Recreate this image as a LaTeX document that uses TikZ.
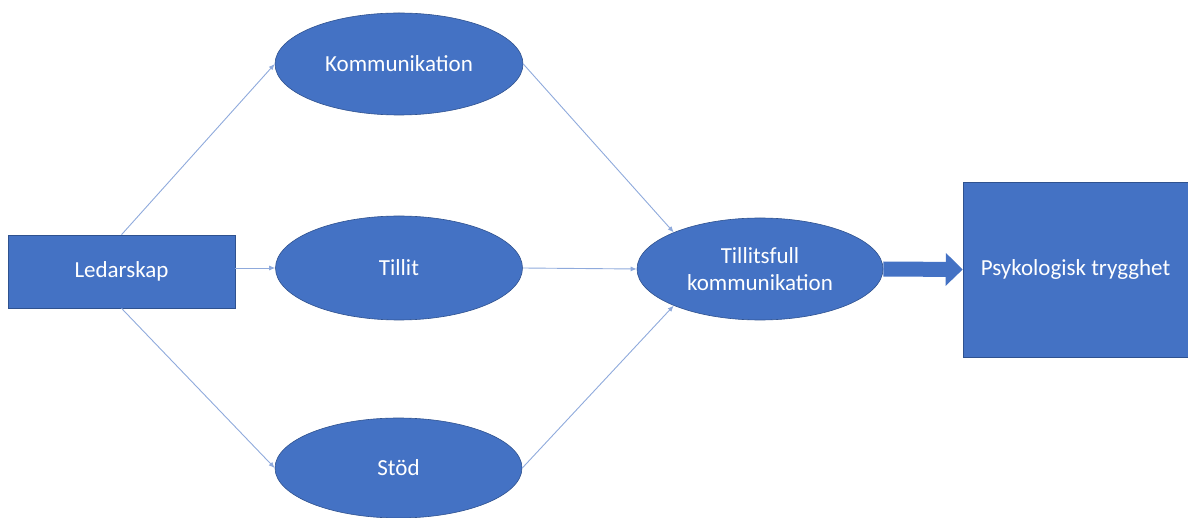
\documentclass[tikz,border=0pt]{standalone}
\usepackage{fontspec}
\setmainfont{Carlito}
\usetikzlibrary{shapes.geometric,arrows.meta,positioning}
\definecolor{boxblue}{HTML}{4472C4}
\definecolor{edgeblue}{HTML}{2F528F}
\definecolor{lineblue}{HTML}{8FAADC}
\tikzset{
 box/.style={rectangle, fill=boxblue, draw=edgeblue, line width=0.6pt, text=white, inner sep=0pt, align=center, font=\fontsize{23}{27}\selectfont},
 oval/.style={box, ellipse},
 link/.style={lineblue, line width=0.9pt, -{Latex[length=6pt,width=5pt]}},
}

\begin{document}
\begin{tikzpicture}[x=1pt,y=-1pt]
 \useasboundingbox (0,0) rectangle (1188,518);
 % coordinates
 \coordinate (c0) at (121.5,271.5);
 \coordinate (c1) at (399,64);
 \coordinate (c2) at (399,268);
 \coordinate (c3) at (398.5,468);
 \coordinate (c4) at (760,269);
 \coordinate (c5) at (1075.5,269.5);

 % nodes
 \node (lead) at (c0) [box, minimum width=227pt, minimum height=73pt] {Ledarskap};
 \node (komm) at (c1) [oval, minimum width=248pt, minimum height=102pt] {Kommunikation};
 \node (tillit) at (c2) [oval, minimum width=247pt, minimum height=104pt] {Tillit};
 \node (stod) at (c3) [oval, minimum width=247pt, minimum height=100pt] {Stöd};
 \node (tk) at (c4) [oval, minimum width=246pt, minimum height=102pt] {Tillitsfull\\kommunikation};
 \node (psy) at (c5) [box, minimum width=225pt, minimum height=175pt] {Psykologisk trygghet};

 % connectors
 \foreach \a/\b in {lead.north/komm.west, lead.east |- tillit.west/tillit.west, lead.south/stod.west, komm.east/tk.157, tillit.east/tk.west, stod.east/tk.203} {
  \draw[link] (\a) -- (\b);
 };

 % block arrow
 \draw[boxblue, line width=15pt, -{Triangle[length=17pt,width=32pt]}] (tk.east) -- (psy.west);
\end{tikzpicture}
\end{document}
